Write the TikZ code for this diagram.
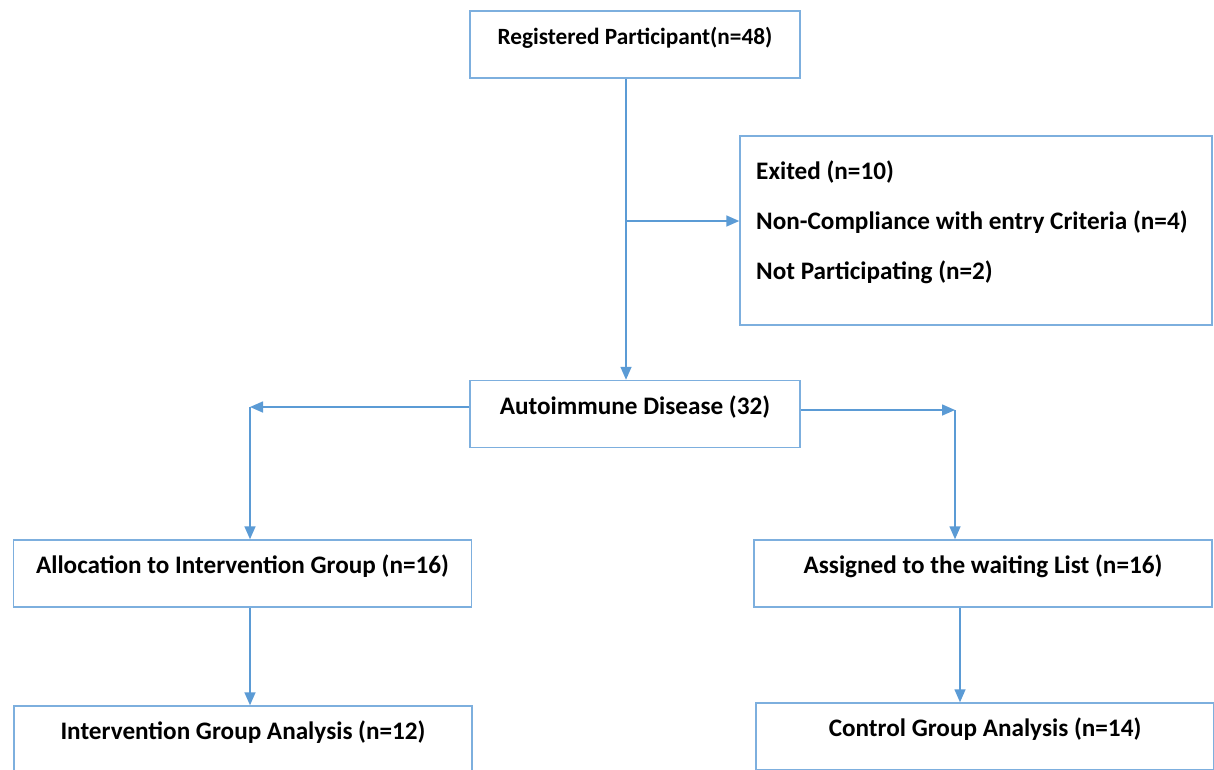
\documentclass[tikz,border=0pt]{standalone}
\usepackage{fontspec}
\setmainfont{Carlito}
\usetikzlibrary{arrows.meta,positioning}

\definecolor{linkblue}{RGB}{91,155,213}
\definecolor{boxblue}{RGB}{125,175,222}

\begin{document}
\begin{tikzpicture}[
			x=1pt, y=-1pt,
			node distance=301pt,
			box/.style={rectangle, draw=boxblue, line width=1.5pt, minimum width=330pt, minimum height=67pt, align=center, text height=12pt, text depth=12pt, font=\bfseries\fontsize{25.2}{30}\selectfont},
			wide/.style={box, minimum width=458pt},
			arr/.style={draw=linkblue, line width=1.6pt, -{Triangle[length=13pt,width=11pt]}}
		]
		\clip (0,0) rectangle (1214,769);
		\fill[white] (0,0) rectangle (1214,769);

		\node[box, font=\bfseries\fontsize{23.3}{28}\selectfont] (Reg) at (635,44.5) {Registered Participant(n=48)};
		\node[box, below=of Reg] (Dis) {Autoimmune Disease (32)};
		\node[rectangle, draw=boxblue, line width=1.5pt, minimum width=472pt, minimum height=189pt] (Excl) at (976,230.5) {};
		\node[anchor=west, align=left, inner sep=0pt, font=\bfseries\fontsize{25.2}{50}\selectfont] (ExclTxt) at (756,222)
			{Exited (n=10)\\Non-Compliance with entry Criteria (n=4)\\Not Participating (n=2)};

		\node[wide] (Alloc) at (242.5,573.5) {Allocation to Intervention Group (n=16)};
		\node[wide] (Wait) at (983,573.5) {Assigned to the waiting List (n=16)};
		\node[wide] (IntAn) at (243,739.5) {Intervention Group Analysis (n=12)};
		\node[wide] (CtrlAn) at (985,736.5) {Control Group Analysis (n=14)};

		\coordinate (Split) at (626,221);
		\coordinate (Lft) at (250,407);
		\coordinate (Rgt) at (955,410);

		\draw[arr] (Split |- Reg.south) -- (Split |- Dis.north);
		\draw[arr] (Split) -- (Split -| Excl.west);

		\draw[arr] (Dis.west |- Lft) -- (Lft);
		\draw[arr] (Lft) -- (Lft |- Alloc.north);
		\draw[arr] (Dis.east |- Rgt) -- (Rgt);
		\draw[arr] (Rgt) -- (Rgt |- Wait.north);

		\draw[arr] (Lft |- Alloc.south) -- (Lft |- IntAn.north);
		\draw[arr] ([xshift=-23pt]Wait.south) -- ([xshift=-23pt]Wait.south |- CtrlAn.north);

	\end{tikzpicture}
\end{document}
